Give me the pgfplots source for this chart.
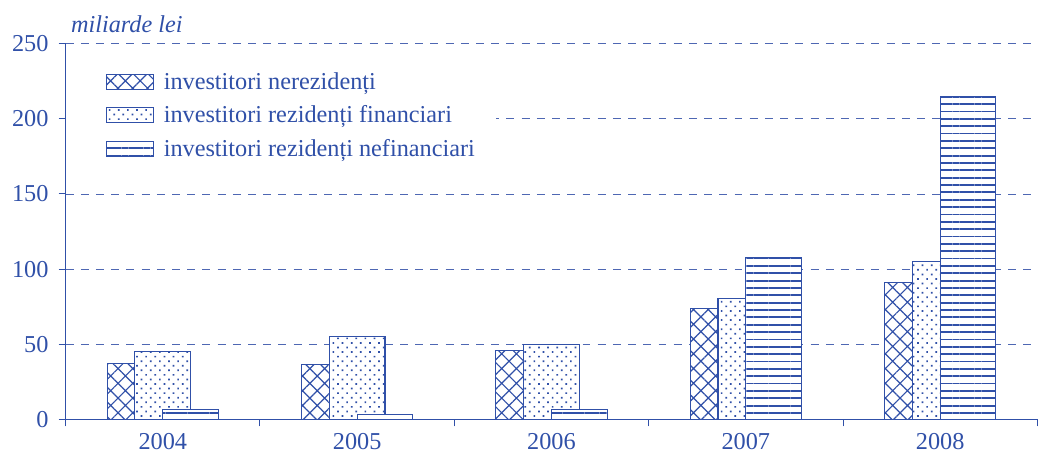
\documentclass[border=0pt]{standalone}
\usepackage{fontspec}
\setmainfont{Liberation Serif}
\usepackage{pgfplots}
\pgfplotsset{compat=1.18}
\usetikzlibrary{patterns.meta}
\definecolor{cb}{HTML}{3050A8}
\definecolor{cg}{HTML}{4E67B3}

\begin{document}
\begin{tikzpicture}
\begin{axis}[
  name=ax, at={(0,0)}, anchor=south west,
  scale only axis, width=978bp, height=378bp,
  xmin=-0.5, xmax=4.5, ymin=0, ymax=250,
  axis lines*=left,
  axis line style={cb, line width=1.2bp},
  tick align=outside, major tick length=7bp,
  tick style={cb, line width=1bp},
  ytick={0,50,...,250},
  ymajorgrids,
  grid style={cg, line width=0.9bp, dash pattern=on 8bp off 7.3bp},
  xtick={-0.5,0.5,...,4.5},
  xticklabels={2004,2005,2006,2007,2008},
  x tick label as interval,
  /pgf/number format/assume math mode=true,
  ticklabel style={font=\fontsize{24.5}{29}\selectfont, text=cb},
  yticklabel style={inner sep=0pt, xshift=-10bp},
  xticklabel style={inner sep=0pt, yshift=-7bp},
  ylabel={\textit{miliarde lei}},
  every axis y label/.style={at={(rel axis cs:0,1)}, anchor=base west, xshift=2bp, yshift=11bp, font=\fontsize{24.5}{29}\selectfont, text=cb},
  ybar, bar width=56bp,
  legend style={at={(0,0.938)}, anchor=north west, draw=none, fill=white,
    inner xsep=20bp, inner ysep=4bp, font=\fontsize{24.5}{29}\selectfont, text=cb,
    row sep=12bp, column sep=8bp, nodes={inner sep=1.5bp}},
  legend cell align=left,
  legend image code/.code={\path (0bp,0bp); \draw[#1] (20bp,-7.5bp) rectangle (68bp,7.5bp);},
]
\addplot+[bar shift=-28bp, draw=cb, line width=1.1bp, fill=white,
  postaction={pattern={Hatch[angle=45, distance=10.5bp, line width=1.2bp]}, pattern color=cb}]
  coordinates {(0,37) (1,36.2) (2,46.1) (3,73.6) (4,91.3)};
\addplot+[bar shift=0bp, draw=cb, line width=1.1bp, fill=white,
  postaction={pattern={Dots[angle=45, distance=6.5bp, radius=1.2bp]}, pattern color=cb}]
  coordinates {(0,45.4) (1,55.3) (2,50.0) (3,80.5) (4,105)};
\addplot+[bar shift=28bp, draw=cb, line width=1.1bp, fill=white,
  postaction={pattern={Lines[angle=0, distance=7.4bp, line width=1.8bp]}, pattern color=cb}]
  coordinates {(0,6.4) (1,3) (2,6.4) (3,108) (4,214.7)};
\legend{investitori nerezidenți, investitori rezidenți financiari, investitori rezidenți nefinanciari}
\end{axis}
\path[use as bounding box] (ax.south west) ++(-66bp,-38bp) rectangle ++(1038bp,460bp);
\end{tikzpicture}
\end{document}
